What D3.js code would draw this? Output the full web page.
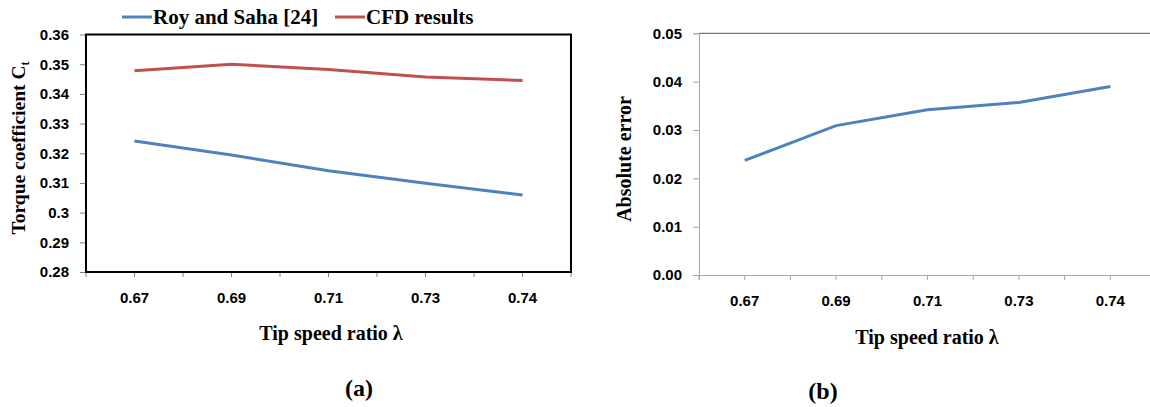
<!DOCTYPE html>
<html>
<head>
<meta charset="utf-8">
<script src="https://cdn.jsdelivr.net/npm/d3@7"></script>
<style>
  body { margin: 0; background: #fff; }
  .tick-label { font-family: "Liberation Sans", Arial, sans-serif; font-weight: bold; font-size: 15px; fill: #000; }
  .title { font-family: "Liberation Serif", "Times New Roman", serif; font-weight: bold; fill: #000; }
</style>
</head>
<body>
<div id="chart"></div>
<script>
// tip speed ratio categories
const lambdas = ['0.67', '0.69', '0.71', '0.73', '0.74']

// (a) torque coefficient
const royAndSaha = [0.3241, 0.3194, 0.3141, 0.3099, 0.3059]
const cfdResults = [0.3478, 0.3500, 0.3482, 0.3457, 0.3445]
const torqueTicks = [0.28, 0.29, 0.3, 0.31, 0.32, 0.33, 0.34, 0.35, 0.36]

// (b) absolute error
const absError = [0.0237, 0.0309, 0.0342, 0.0357, 0.0390]
const errorTicks = [0, 0.01, 0.02, 0.03, 0.04, 0.05]

const blue = '#4F81BD'
const red = '#C0504D'

let width = 1150
let height = 407

let svg = d3.select('#chart')
  .append('svg')
  .attr('width', width)
  .attr('height', height)

// ---------- panel (a) ----------
let xA = d3.scaleBand().domain(lambdas).range([86, 571])
let yA = d3.scaleLinear().domain([0.28, 0.36]).range([272, 34.5])

let gA = svg.append('g')

// y axis
gA.append('g')
  .attr('transform', 'translate(86,0)')
  .call(d3.axisLeft(yA).tickValues(torqueTicks).tickSize(6).tickPadding(11).tickFormat(d3.format('')))
  .call(g => g.select('.domain').remove())
  .call(g => g.selectAll('.tick line').attr('stroke', '#808080'))
  .call(g => g.selectAll('.tick text').attr('class', 'tick-label'))

// x axis: labels at band centres, extra ticks at band edges
gA.append('g')
  .attr('transform', 'translate(0,272)')
  .call(d3.axisBottom(xA).tickSize(5).tickPadding(15))
  .call(g => g.select('.domain').remove())
  .call(g => g.selectAll('.tick line').attr('stroke', '#808080'))
  .call(g => g.selectAll('.tick text').attr('class', 'tick-label'))

gA.append('g')
  .selectAll('line')
  .data(lambdas.map(d => xA(d)).concat([xA.range()[1]]))
  .join('line')
  .attr('x1', d => d).attr('x2', d => d)
  .attr('y1', 272).attr('y2', 277)
  .attr('stroke', '#808080')

// frame
gA.append('rect')
  .attr('x', 86).attr('y', 34.5)
  .attr('width', 571 - 86).attr('height', 272 - 34.5)
  .attr('fill', 'none')
  .attr('stroke', '#000')
  .attr('stroke-width', 2)

let lineA = d3.line()
  .x((d, i) => xA(lambdas[i]) + xA.bandwidth() / 2)
  .y(d => yA(d))

gA.append('path').datum(royAndSaha)
  .attr('d', lineA).attr('fill', 'none').attr('stroke', blue).attr('stroke-width', 3)
gA.append('path').datum(cfdResults)
  .attr('d', lineA).attr('fill', 'none').attr('stroke', red).attr('stroke-width', 3)

// legend
let legend = [
  { name: 'Roy and Saha [24]', color: blue, x: 122 },
  { name: 'CFD results', color: red, x: 335 }
]
legend.forEach(l => {
  gA.append('line')
    .attr('x1', l.x).attr('x2', l.x + 30)
    .attr('y1', 17).attr('y2', 17)
    .attr('stroke', l.color).attr('stroke-width', 3)
  gA.append('text')
    .attr('class', 'title')
    .attr('x', l.x + 31).attr('y', 24)
    .style('font-size', '21px')
    .text(l.name)
})

// y title
let yTitleA = gA.append('text')
  .attr('class', 'title')
  .attr('transform', 'translate(25,148) rotate(-90)')
  .attr('text-anchor', 'middle')
  .style('font-size', '19.5px')
yTitleA.append('tspan').text('Torque coefficient C')
yTitleA.append('tspan').attr('dy', 4).style('font-size', '12px').text('t')

gA.append('text')
  .attr('class', 'title')
  .attr('x', 331).attr('y', 340)
  .attr('text-anchor', 'middle')
  .style('font-size', '20px')
  .text('Tip speed ratio λ')

gA.append('text')
  .attr('class', 'title')
  .attr('x', 359).attr('y', 396)
  .attr('text-anchor', 'middle')
  .style('font-size', '24px')
  .text('(a)')

// ---------- panel (b) ----------
let xB = d3.scaleBand().domain(lambdas).range([699, 1156])
let yB = d3.scaleLinear().domain([0, 0.05]).range([275, 33.3])

let gB = svg.append('g')

// top border of the plot area
gB.append('line')
  .attr('x1', 699).attr('x2', 1156)
  .attr('y1', 33.3).attr('y2', 33.3)
  .attr('stroke', '#7a7a7a').attr('stroke-width', 1.2)

gB.append('g')
  .attr('transform', 'translate(699,0)')
  .call(d3.axisLeft(yB).tickValues(errorTicks).tickSize(6).tickPadding(11).tickFormat(d3.format('.2f')))
  .call(g => g.select('.domain').attr('stroke', '#a6a6a6'))
  .call(g => g.selectAll('.tick line').attr('stroke', '#a6a6a6'))
  .call(g => g.selectAll('.tick text').attr('class', 'tick-label'))

gB.append('g')
  .attr('transform', 'translate(0,275)')
  .call(d3.axisBottom(xB).tickSize(5).tickPadding(15))
  .call(g => g.select('.domain').attr('stroke', '#a6a6a6'))
  .call(g => g.selectAll('.tick line').attr('stroke', '#a6a6a6'))
  .call(g => g.selectAll('.tick text').attr('class', 'tick-label'))

gB.append('g')
  .selectAll('line')
  .data(lambdas.map(d => xB(d)))
  .join('line')
  .attr('x1', d => d).attr('x2', d => d)
  .attr('y1', 275).attr('y2', 280)
  .attr('stroke', '#a6a6a6')

let lineB = d3.line()
  .x((d, i) => xB(lambdas[i]) + xB.bandwidth() / 2)
  .y(d => yB(d))

gB.append('path').datum(absError)
  .attr('d', lineB).attr('fill', 'none').attr('stroke', blue).attr('stroke-width', 3)

gB.append('text')
  .attr('class', 'title')
  .attr('transform', 'translate(631,159) rotate(-90)')
  .attr('text-anchor', 'middle')
  .style('font-size', '20px')
  .text('Absolute error')

gB.append('text')
  .attr('class', 'title')
  .attr('x', 927).attr('y', 344)
  .attr('text-anchor', 'middle')
  .style('font-size', '20px')
  .text('Tip speed ratio λ')

gB.append('text')
  .attr('class', 'title')
  .attr('x', 823).attr('y', 399)
  .attr('text-anchor', 'middle')
  .style('font-size', '24px')
  .text('(b)')
</script>
</body>
</html>
